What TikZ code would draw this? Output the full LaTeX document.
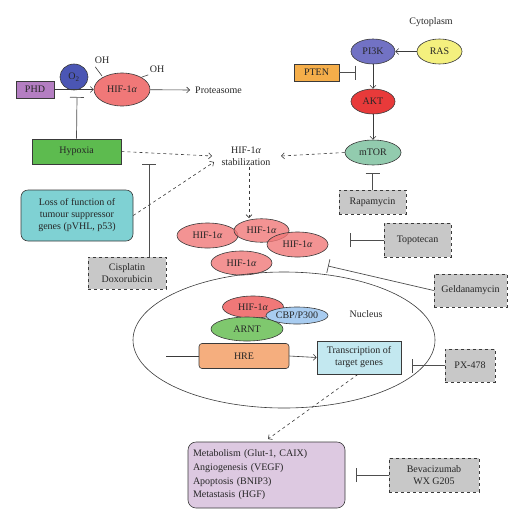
\documentclass[tikz,border=0pt]{standalone}
\usepackage{fontspec}
\setmainfont{Liberation Serif}
\usetikzlibrary{shapes.geometric,arrows.meta}
\definecolor{cphd}{HTML}{B47EC2}
\definecolor{co2}{HTML}{4B56B4}
\definecolor{chif}{HTML}{F07878}
\definecolor{chyp}{HTML}{5DBB4F}
\definecolor{closs}{HTML}{7FD1D3}
\definecolor{cgray}{HTML}{C8C8C8}
\definecolor{cpi}{HTML}{7272C4}
\definecolor{cras}{HTML}{F4F07E}
\definecolor{cpten}{HTML}{F5AE4A}
\definecolor{cakt}{HTML}{E83A3A}
\definecolor{cmtor}{HTML}{92CBAE}
\definecolor{ccbp}{HTML}{A8CCF0}
\definecolor{carnt}{HTML}{7FC86E}
\definecolor{chre}{HTML}{F5AE7E}
\definecolor{ctr}{HTML}{C3E8F0}
\definecolor{cout}{HTML}{DDC9E1}
\definecolor{cline}{HTML}{3A3A3A}
\tikzset{
  every node/.style={font=\fontsize{10}{12}\selectfont, text=black!85},
  ell/.style={ellipse, draw=cline, line width=0.6pt, inner sep=0pt},
  box/.style={rectangle, draw=cline, line width=0.6pt, inner sep=1pt},
  drug/.style={rectangle, draw=cline, line width=0.6pt, dashed, fill=cgray, align=center, inner sep=1pt},
  arr/.style={draw=cline, line width=0.6pt, -{Straight Barb[length=3pt,width=6pt]}},
  darr/.style={arr, dashed},
  inh/.style={draw=cline!90, line width=0.7pt, -{Bar[width=14pt]}},
  hifc/.style={ell, fill=chif, fill opacity=0.8, text opacity=1, minimum width=61pt, minimum height=25pt},
}
\begin{document}
\begin{tikzpicture}[x=1pt,y=-1pt]
\path[use as bounding box] (0,0) rectangle (526,509);

% top-left
\node[box, fill=cphd, minimum width=38pt, minimum height=17pt] (phd) at (35,89.5) {PHD};
\node[ell, fill=co2, minimum width=28pt, minimum height=26pt] (o2) at (74,77) {O\textsubscript{2}};
\node[ell, fill=chif, minimum width=56pt, minimum height=33pt] (hif) at (122,89.5) {HIF-1\textit{α}};
\node (oh1) at (102,60) {OH};
\node (oh2) at (157,69) {OH};
\coordinate (oh1b) at (102,76);
\coordinate (oh2b) at (142,77);
\draw[cline, line width=0.6pt] (oh1.south west) ++(4,0) -- (oh1b);
\draw[cline, line width=0.6pt] (oh2.south west) ++(2,-1) -- (oh2b);
\node[anchor=west, inner sep=0pt] (prot) at (195,90) {Proteasome};
\draw[arr] (phd) -- (hif);
\draw[arr] (hif) -- ([xshift=-5pt]prot.west);

\node[box, fill=chyp, minimum width=89pt, minimum height=25pt] (hyp) at (76.5,151.5) {Hypoxia};
\coordinate (o2t) at (77,97);
\draw[inh] (hyp.north) -- (o2t);

\node[align=center, inner sep=1pt] (stab) at (246,156) {HIF-1\textit{α}\\stabilization};
\coordinate (stabin1) at (212,156);
\coordinate (stabin2) at (214,162);
\coordinate (stabin3) at (281,156);
\draw[darr] (hyp.east) -- (stabin1);

\node[box, rounded corners=7pt, fill=closs, minimum width=112pt, minimum height=51pt, align=center] (loss) at (77,215.5) {Loss of function of\\tumour suppressor\\genes (pVHL, p53)};
\draw[darr] (loss.east) -- (stabin2);

\node[drug, minimum width=78pt, minimum height=32pt] (cis) at (127,273) {Cisplatin\\Doxorubicin};
\coordinate (cist) at (149,164);
\draw[inh] (cis.north -| cist) -- (cist);

% top-right
\node (cyto) at (431,22) {Cytoplasm};
\node[ell, fill=cpi, minimum width=44pt, minimum height=25pt] (pi3k) at (373,51.5) {PI3K};
\node[ell, fill=cras, minimum width=45pt, minimum height=25pt] (ras) at (439.5,51.5) {RAS};
\node[box, fill=cpten, minimum width=45pt, minimum height=17pt] (pten) at (316.5,72.5) {PTEN};
\node[ell, fill=cakt, minimum width=44pt, minimum height=25pt] (akt) at (373,101.5) {AKT};
\node[ell, fill=cmtor, minimum width=56pt, minimum height=25pt] (mtor) at (373,152.5) {mTOR};
\coordinate (ptent) at (356,72.5);
\draw[arr] (ras) -- (pi3k);
\draw[inh] (pten) -- (ptent);
\draw[arr] (pi3k) -- (akt);
\draw[arr] (akt) -- (mtor);
\draw[darr] (mtor.west) -- (stabin3);

\node[drug, minimum width=67pt, minimum height=24pt] (rapa) at (372.5,202) {Rapamycin};
\coordinate (rapat) at (372.5,173);
\draw[inh] (rapa) -- (rapat);

% HIF cluster
\node[hifc] (h1) at (207.5,235.5) {HIF-1\textit{α}};
\node[hifc, minimum width=55pt, minimum height=23.5pt] (h2) at (261.5,230.5) {HIF-1\textit{α}};
\node[hifc] (h3) at (297.5,244.5) {HIF-1\textit{α}};
\node[hifc, minimum height=24pt] (h4) at (241.5,263) {HIF-1\textit{α}};
\coordinate (stabout) at (249,218);
\draw[darr] (stab.south -| stabout) -- (stabout);

\node[drug, minimum width=67pt, minimum height=34pt] (topo) at (417.5,240) {Topotecan};
\coordinate (topot) at (350,240);
\draw[inh] (topo) -- (topot);

\node[drug, minimum width=73pt, minimum height=33pt] (geld) at (470.5,290.5) {Geldanamycin};
\coordinate (geldt) at (328,266);
\draw[inh] (geld.west) -- (geldt);

% nucleus
\node[ellipse, draw=cline, line width=0.6pt, minimum width=302pt, minimum height=136pt] (nuc) at (284,340) {};
\node (nuclab) at (366,314) {Nucleus};
\node[ell, fill=chif, minimum width=61pt, minimum height=22pt] (hn) at (253,307) {HIF-1\textit{α}};
\node[ell, fill=ccbp, minimum width=62pt, minimum height=17pt] (cbp) at (297,315.5) {CBP/P300};
\node[ell, fill=carnt, minimum width=72pt, minimum height=24pt] (arnt) at (247,329) {ARNT};
\node[box, rounded corners=3pt, fill=chre, minimum width=90pt, minimum height=25pt] (hre) at (244,356) {HRE};
\coordinate (dna) at (166,356);
\draw[cline, line width=0.6pt] (dna) -- (hre.west);
\node[box, fill=ctr, minimum width=84pt, minimum height=33pt, align=center] (tr) at (359,357.5) {Transcription of\\target genes};
\draw[arr] (hre.east) -- (tr.west);

\node[drug, minimum width=50pt, minimum height=33pt] (px) at (470,365.5) {PX-478};
\coordinate (pxt) at (412,365.5);
\draw[inh] (px) -- (pxt);

% outputs
\node[box, rounded corners=8pt, fill=cout, minimum width=157pt, minimum height=66pt, align=left, text width=147pt, font=\fontsize{10}{13.7}\selectfont] (out) at (266.5,475) {Metabolism (Glut-1, CAIX)\\Angiogenesis (VEGF)\\Apoptosis (BNIP3)\\Metastasis (HGF)};
\coordinate (outin) at (268,439);
\draw[darr] (tr.south) ++(-1,0) -- (outin);

\node[drug, minimum width=90pt, minimum height=34pt] (bev) at (434,475) {Bevacizumab\\WX G205};
\coordinate (bevt) at (356,475);
\draw[inh] (bev) -- (bevt);
\end{tikzpicture}
\end{document}
